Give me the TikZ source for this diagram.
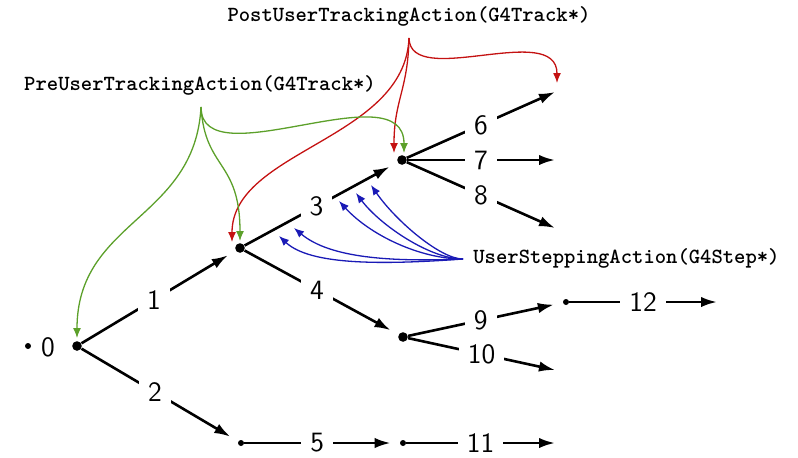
\documentclass[tikz,border=0pt]{standalone}
\usetikzlibrary{arrows.meta}
\definecolor{cred}{RGB}{196,18,18}
\definecolor{cgreen}{RGB}{92,160,42}
\definecolor{cblue}{RGB}{26,26,182}
\tikzset{
  bigdot/.style={circle,fill=black,inner sep=0pt,minimum size=4.8pt},
  smalldot/.style={circle,fill=black,inner sep=0pt,minimum size=3pt},
  edge/.style={line width=1.3pt,-{Latex[length=8pt,width=5.2pt]}},
  tov/.style={edge,shorten >=4.5pt},
  lbl/.style={fill=white,inner sep=4.5pt,font=\fontsize{14}{16}\selectfont\sffamily},
  num/.style={inner sep=0pt,font=\fontsize{14}{16}\selectfont\sffamily},
  mono/.style={inner sep=0pt,font=\fontsize{10.8}{12}\selectfont\ttfamily\bfseries},
  hook/.style={line width=0.65pt,-{Latex[length=5pt,width=4pt]}},
}
\begin{document}
\begin{tikzpicture}[x=0.5pt,y=-0.5pt]
\useasboundingbox (0,0) rectangle (798,457);
% vertices
\node[smalldot] (o) at (28,346) {};
\node[num] (o0) at (48,347) {0};
\node[bigdot] (A) at (77,346) {};
\node[bigdot] (B) at (240,248) {};
\node[smalldot] (C) at (241,443) {};
\node[bigdot] (D) at (402,160) {};
\node[bigdot] (E) at (403,337) {};
\node[smalldot] (F) at (403,443) {};
\node[smalldot] (G) at (566,302) {};
\coordinate (e6) at (555,92);
\coordinate (e7) at (555,160);
\coordinate (e8) at (555,228);
\coordinate (e10) at (555,370);
\coordinate (e11) at (555,443);
\coordinate (e12) at (717,302);
% edges
\draw[tov] (A) -- node[lbl,pos=0.47]{1} (B);
\draw[tov] (A) -- node[lbl,pos=0.47]{2} (C);
\draw[tov] (B) -- node[lbl,pos=0.47]{3} (D);
\draw[tov] (B) -- node[lbl,pos=0.47]{4} (E);
\draw[tov] (C) -- node[lbl,pos=0.47]{5} (F);
\draw[edge] (D) -- node[lbl]{6} (e6);
\draw[edge] (D) -- node[lbl]{7} (e7);
\draw[edge] (D) -- node[lbl]{8} (e8);
\draw[tov] (E) -- node[lbl,pos=0.47]{9} (G);
\draw[edge] (E) -- node[lbl]{10} (e10);
\draw[edge] (F) -- node[lbl]{11} (e11);
\draw[edge] (G) -- node[lbl]{12} (e12);
% texts
\node[mono] (post) at (409,16) {PostUserTrackingAction(G4Track*)};
\node[mono] (pre) at (200,85) {PreUserTrackingAction(G4Track*)};
\node[mono,anchor=west] (step) at (473,258) {UserSteppingAction(G4Step*)};
\coordinate (postS) at (409,38);
\coordinate (preS) at (201,107);
\coordinate (stepS) at (463,259);
% red
\draw[hook,cred] (postS) .. controls (405,140) and (232,150) .. (232,242);
\draw[hook,cred] (postS) .. controls (408,90) and (394,100) .. (394,153);
\draw[hook,cred] (postS) .. controls (410,90) and (557,20) .. (557,83);
% green
\draw[hook,cgreen] (preS) .. controls (195,220) and (77,220) .. (77,338);
\draw[hook,cgreen] (preS) .. controls (205,170) and (240,160) .. (240,241);
\draw[hook,cgreen] (preS) .. controls (201,180) and (404,70) .. (404,153);
% blue
\draw[hook,cblue] (stepS) .. controls (380,265) and (310,265) .. (279,236);
\draw[hook,cblue] (stepS) .. controls (390,262) and (330,258) .. (294,228);
\draw[hook,cblue] (stepS) .. controls (420,259) and (370,235) .. (339,201);
\draw[hook,cblue] (stepS) .. controls (430,259) and (380,225) .. (356,193);
\draw[hook,cblue] (stepS) .. controls (440,259) and (395,220) .. (371,185);
\end{tikzpicture}
\end{document}
